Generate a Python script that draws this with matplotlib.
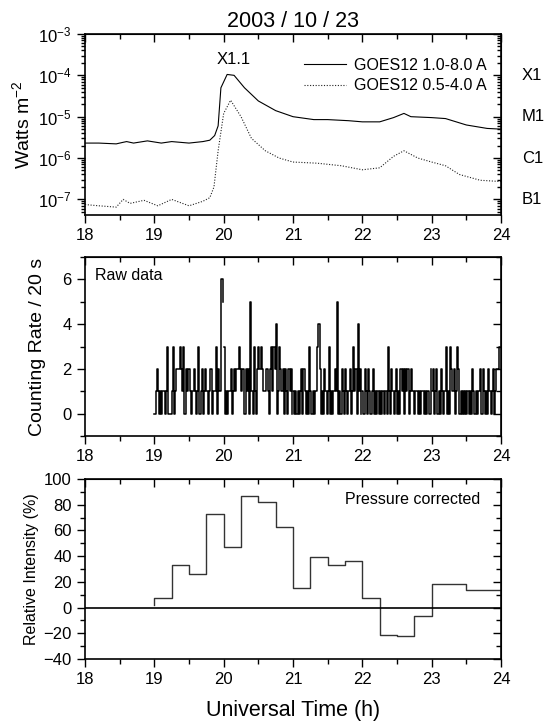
import numpy as np
import matplotlib
matplotlib.use("Agg")
import matplotlib.pyplot as plt
from matplotlib.ticker import MultipleLocator, LogLocator, NullFormatter

plt.rcParams['font.family'] = ['Liberation Sans', 'DejaVu Sans']
plt.rcParams['mathtext.fontset'] = 'custom'
plt.rcParams['mathtext.rm'] = 'Liberation Sans'
plt.rcParams['mathtext.it'] = 'Liberation Sans'

# --- GOES X-ray flux ---
goes_long_t = [18.0, 18.2, 18.45, 18.55, 18.6, 18.7, 18.9, 19.1, 19.25, 19.5, 19.7, 19.8,
               19.87, 19.92, 19.96, 20.05, 20.15, 20.3, 20.5, 20.75, 21.0, 21.3, 21.5,
               21.8, 22.0, 22.25, 22.45, 22.6, 22.7, 23.0, 23.2, 23.5, 23.8, 24.0]
goes_long_f = [2.3e-6, 2.3e-6, 2.2e-6, 2.4e-6, 2.5e-6, 2.3e-6, 2.6e-6, 2.3e-6, 2.5e-6,
               2.3e-6, 2.5e-6, 2.7e-6, 3.5e-6, 6e-6, 5e-5, 1.05e-4, 1.0e-4, 5e-5, 2.4e-5,
               1.4e-5, 1.0e-5, 8.5e-6, 8.5e-6, 8e-6, 7.5e-6, 7.5e-6, 9.5e-6, 1.2e-5, 1.0e-5,
               9.5e-6, 9e-6, 6.3e-6, 5.2e-6, 5e-6]
goes_short_t = [18.0, 18.2, 18.45, 18.55, 18.65, 18.85, 19.05, 19.25, 19.5, 19.7, 19.8,
                19.86, 19.92, 20.0, 20.1, 20.25, 20.4, 20.6, 20.8, 21.0, 21.35, 21.7,
                22.0, 22.25, 22.45, 22.6, 22.8, 23.0, 23.2, 23.4, 23.7, 24.0]
goes_short_f = [7.5e-8, 7e-8, 6.5e-8, 1e-7, 8e-8, 9.5e-8, 7e-8, 1e-7, 7e-8, 9e-8, 1.1e-7,
                2e-7, 1.5e-6, 1.2e-5, 2.5e-5, 1e-5, 3e-6, 1.5e-6, 1e-6, 8e-7, 7.5e-7, 6.5e-7,
                5.2e-7, 5.8e-7, 1.1e-6, 1.5e-6, 1e-6, 8e-7, 6.5e-7, 4e-7, 2.9e-7, 2.7e-7]
class_labels = ["X1", "M1", "C1", "B1"]
class_levels = [1e-4, 1e-5, 1e-6, 1e-7]

# --- raw counting rate, one digit per minute, one string per hour ---
raw_hours = [19, 20, 21, 22, 23]
raw_counts = [
    "0121010110" "1300013012" "2232130212" "2101210130" "1201210122" "0113021165",
    "3010112012" "1223212202" "1205103102" "3232111210" "2313240132" "1202102120",
    "1010101202" "1010310101" "1342010210" "1301012150" "1021021012" "0131204120",
    "1021021012" "0101010110" "1031021012" "0102120212" "0121101101" "0110101102",
    "1201201021" "0130103212" "0132010101" "0101021010" "1120210102" "1012012233",
]

# --- pressure corrected relative intensity, 15 min bins ---
rel_edges = [19.0, 19.25, 19.5, 19.75, 20.0, 20.25, 20.5, 20.75, 21.0, 21.25, 21.5,
             21.75, 22.0, 22.25, 22.5, 22.75, 23.0, 23.25, 23.5, 23.75, 24.0]
rel_values = [7.5, 33, 26, 72.5, 47.5, 86.5, 82.5, 63, 15, 39.5, 33, 36, 7.5,
              -21, -22, -6.5, 18, 18, 14, 14]
rel_start = 2

fig = plt.figure(figsize=(5.46, 7.26), dpi=100)
ax1 = fig.add_axes([0.1557, 0.7039, 0.7619, 0.2493])
ax2 = fig.add_axes([0.1557, 0.3994, 0.7619, 0.2466])
ax3 = fig.add_axes([0.1557, 0.0923, 0.7619, 0.2479])

tick_fs = 12


def inner_ticks(sec):
    sec.tick_params(which='both', direction='in', labeltop=False, labelright=False, width=1)
    sec.tick_params(which='major', length=6)
    sec.tick_params(which='minor', length=3.5)


def style_axes(ax):
    ax.set_xlim(18, 24)
    ax.xaxis.set_major_locator(MultipleLocator(1))
    ax.xaxis.set_minor_locator(MultipleLocator(0.5))
    ax.tick_params(which='both', direction='out', top=False, right=False,
                   labelsize=tick_fs, width=1)
    ax.tick_params(which='major', length=6)
    ax.tick_params(which='minor', length=3.5)
    for s in ax.spines.values():
        s.set_linewidth(1.2)
    # inward ticks on top, as in the original
    sec = ax.secondary_xaxis('top')
    sec.xaxis.set_major_locator(MultipleLocator(1))
    sec.xaxis.set_minor_locator(MultipleLocator(0.5))
    inner_ticks(sec)


# top panel
style_axes(ax1)
ax1.set_yscale('log')
ax1.set_ylim(4.2e-8, 1e-3)
ax1.plot(goes_long_t, goes_long_f, color='black', lw=0.8, label='GOES12 1.0-8.0 A')
ax1.plot(goes_short_t, goes_short_f, color='#222222', lw=0.8, ls=(0, (1, 1.5)),
         label='GOES12 0.5-4.0 A')
ax1.yaxis.set_major_locator(LogLocator(base=10, numticks=10))
ax1.yaxis.set_minor_locator(LogLocator(base=10, subs=np.arange(2, 10), numticks=10))
ax1.yaxis.set_minor_formatter(NullFormatter())
ax1.tick_params(axis='y', which='minor', length=3)
r1 = ax1.secondary_yaxis('right', functions=(lambda v: v, lambda v: v))
r1.set_yscale('log')
r1.yaxis.set_major_locator(LogLocator(base=10, numticks=10))
r1.yaxis.set_minor_locator(LogLocator(base=10, subs=np.arange(2, 10), numticks=10))
inner_ticks(r1)
r1.tick_params(which='minor', length=3)
ax1.set_ylabel('Watts m$^{-2}$', fontsize=14, labelpad=4)
ax1.legend(loc='upper right', bbox_to_anchor=(0.965, 0.87), frameon=False,
           fontsize=11.5, handlelength=2.6, handletextpad=0.5, labelspacing=0.35,
           borderaxespad=0.0, borderpad=0.0)
ax1.text(20.15, 1.6e-4, 'X1.1', fontsize=12, ha='center', va='bottom')
for lab, lev in zip(class_labels, class_levels):
    ax1.text(1.05, lev, lab, transform=ax1.get_yaxis_transform(), fontsize=12,
             va='center', ha='left', clip_on=False)
ax1.set_title('2003 / 10 / 23', fontsize=15.5, pad=5)

# middle panel
style_axes(ax2)
for h, s in zip(raw_hours, raw_counts):
    vals = [int(c) for c in s]
    t = h + np.arange(len(vals)) / len(vals)
    ax2.plot(t, vals, color='black', lw=1.1, drawstyle='steps-post')
ax2.set_ylim(-1, 7)
ax2.yaxis.set_major_locator(MultipleLocator(2))
ax2.yaxis.set_minor_locator(MultipleLocator(1))
r2 = ax2.secondary_yaxis('right')
r2.yaxis.set_major_locator(MultipleLocator(2))
r2.yaxis.set_minor_locator(MultipleLocator(1))
inner_ticks(r2)
ax2.set_ylabel('Counting Rate / 20 s', fontsize=14, labelpad=12)
ax2.text(0.025, 0.94, 'Raw data', transform=ax2.transAxes, fontsize=11.5,
         ha='left', va='top')

# bottom panel
style_axes(ax3)
step_x = [rel_edges[0]] + rel_edges[:-1] + [rel_edges[-1]]
step_y = [rel_start] + rel_values + [rel_values[-1]]
ax3.step(step_x, step_y, where='post', color='#333333', lw=1.0)
ax3.axhline(0, color='black', lw=1.2)
ax3.set_ylim(-40, 100)
ax3.yaxis.set_major_locator(MultipleLocator(20))
ax3.yaxis.set_minor_locator(MultipleLocator(10))
r3 = ax3.secondary_yaxis('right')
r3.yaxis.set_major_locator(MultipleLocator(20))
r3.yaxis.set_minor_locator(MultipleLocator(10))
inner_ticks(r3)
ax3.set_ylabel('Relative Intensity (%)', fontsize=11.5, labelpad=3)
ax3.text(0.95, 0.93, 'Pressure corrected', transform=ax3.transAxes, fontsize=11.5,
         ha='right', va='top')
ax3.set_xlabel('Universal Time (h)', fontsize=15.5, labelpad=9)

fig.savefig('out.png', dpi=100)
